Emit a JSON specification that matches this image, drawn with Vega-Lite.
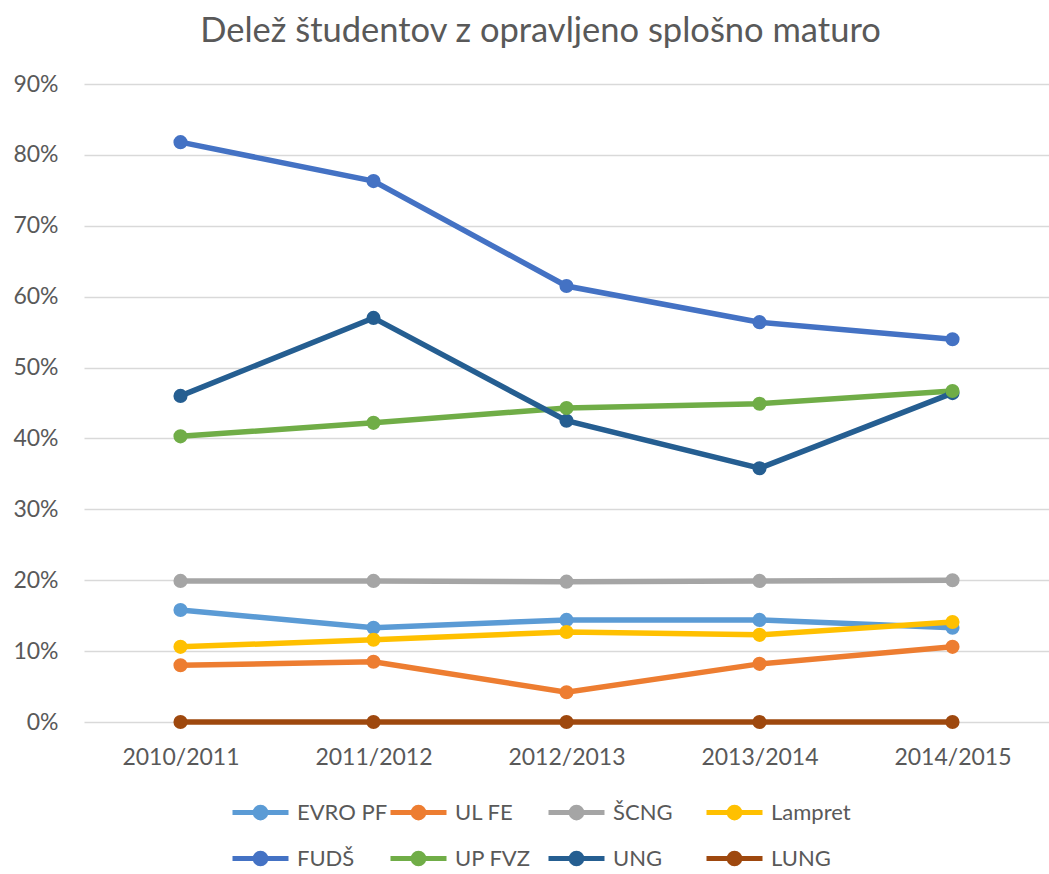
{
  "$schema": "https://vega.github.io/schema/vega-lite/v6.json",
  "width": 965,
  "height": 638,
  "autosize": {"type": "none"},
  "padding": {"left": 84, "top": 84, "right": 0, "bottom": 152},
  "background": "white",
  "title": {
    "text": "Delež študentov z opravljeno splošno maturo",
    "font": "Lato",
    "fontSize": 34.5,
    "fontWeight": "normal",
    "color": "#595959",
    "anchor": "middle",
    "dx": -26,
    "offset": 24
  },
  "config": {
    "view": {"stroke": null},
    "font": "Lato"
  },
  "data": {
    "values": [
      {"year": "2010/2011", "school": "EVRO PF", "value": 0.158},
      {"year": "2011/2012", "school": "EVRO PF", "value": 0.133},
      {"year": "2012/2013", "school": "EVRO PF", "value": 0.144},
      {"year": "2013/2014", "school": "EVRO PF", "value": 0.144},
      {"year": "2014/2015", "school": "EVRO PF", "value": 0.133},
      {"year": "2010/2011", "school": "UL FE", "value": 0.080},
      {"year": "2011/2012", "school": "UL FE", "value": 0.085},
      {"year": "2012/2013", "school": "UL FE", "value": 0.042},
      {"year": "2013/2014", "school": "UL FE", "value": 0.082},
      {"year": "2014/2015", "school": "UL FE", "value": 0.106},
      {"year": "2010/2011", "school": "ŠCNG", "value": 0.199},
      {"year": "2011/2012", "school": "ŠCNG", "value": 0.199},
      {"year": "2012/2013", "school": "ŠCNG", "value": 0.198},
      {"year": "2013/2014", "school": "ŠCNG", "value": 0.199},
      {"year": "2014/2015", "school": "ŠCNG", "value": 0.200},
      {"year": "2010/2011", "school": "Lampret", "value": 0.106},
      {"year": "2011/2012", "school": "Lampret", "value": 0.116},
      {"year": "2012/2013", "school": "Lampret", "value": 0.127},
      {"year": "2013/2014", "school": "Lampret", "value": 0.123},
      {"year": "2014/2015", "school": "Lampret", "value": 0.141},
      {"year": "2010/2011", "school": "FUDŠ", "value": 0.818},
      {"year": "2011/2012", "school": "FUDŠ", "value": 0.763},
      {"year": "2012/2013", "school": "FUDŠ", "value": 0.615},
      {"year": "2013/2014", "school": "FUDŠ", "value": 0.564},
      {"year": "2014/2015", "school": "FUDŠ", "value": 0.540},
      {"year": "2010/2011", "school": "UP FVZ", "value": 0.403},
      {"year": "2011/2012", "school": "UP FVZ", "value": 0.422},
      {"year": "2012/2013", "school": "UP FVZ", "value": 0.443},
      {"year": "2013/2014", "school": "UP FVZ", "value": 0.449},
      {"year": "2014/2015", "school": "UP FVZ", "value": 0.467},
      {"year": "2010/2011", "school": "UNG", "value": 0.460},
      {"year": "2011/2012", "school": "UNG", "value": 0.570},
      {"year": "2012/2013", "school": "UNG", "value": 0.425},
      {"year": "2013/2014", "school": "UNG", "value": 0.358},
      {"year": "2014/2015", "school": "UNG", "value": 0.464},
      {"year": "2010/2011", "school": "LUNG", "value": 0.0},
      {"year": "2011/2012", "school": "LUNG", "value": 0.0},
      {"year": "2012/2013", "school": "LUNG", "value": 0.0},
      {"year": "2013/2014", "school": "LUNG", "value": 0.0},
      {"year": "2014/2015", "school": "LUNG", "value": 0.0}
    ]
  },
  "mark": {
    "type": "line",
    "strokeWidth": 5.5,
    "point": {"filled": true, "size": 200}
  },
  "encoding": {
    "x": {
      "field": "year",
      "type": "ordinal",
      "scale": {"type": "point", "padding": 0.5},
      "axis": {
        "title": null,
        "domain": false,
        "ticks": false,
        "labelAngle": 0,
        "labelFont": "Lato",
        "labelFontSize": 23,
        "labelColor": "#595959",
        "labelPadding": 24
      }
    },
    "y": {
      "field": "value",
      "type": "quantitative",
      "scale": {"domain": [0, 0.9], "nice": false},
      "axis": {
        "title": null,
        "values": [0, 0.1, 0.2, 0.3, 0.4, 0.5, 0.6, 0.7, 0.8, 0.9],
        "format": ".0%",
        "domain": false,
        "ticks": false,
        "labelFont": "Lato",
        "labelFontSize": 23,
        "labelColor": "#595959",
        "labelPadding": 26,
        "gridColor": "#D9D9D9",
        "gridWidth": 1.5
      }
    },
    "color": {
      "field": "school",
      "type": "nominal",
      "sort": ["EVRO PF", "UL FE", "ŠCNG", "Lampret", "FUDŠ", "UP FVZ", "UNG", "LUNG"],
      "scale": {
        "domain": ["EVRO PF", "UL FE", "ŠCNG", "Lampret", "FUDŠ", "UP FVZ", "UNG", "LUNG"],
        "range": ["#5B9BD5", "#ED7D31", "#A5A5A5", "#FFC000", "#4472C4", "#70AD47", "#255E91", "#9E480E"]
      },
      "legend": {
        "title": null,
        "orient": "none",
        "legendX": 146,
        "legendY": 698,
        "direction": "horizontal",
        "columns": 4,
        "gridAlign": "all",
        "columnPadding": -15,
        "rowPadding": -2,
        "labelFont": "Lato",
        "labelFontSize": 22,
        "labelColor": "#595959",
        "labelOffset": 6,
        "symbolSize": 3136,
        "symbolStrokeWidth": 5,
        "symbolType": "M-1,0H1M-0.19,0A0.19,0.19,0,1,0,0.19,0A0.19,0.19,0,1,0,-0.19,0Z",
        "encode": {
          "symbols": {
            "update": {
              "fill": {"scale": "color", "field": "value"},
              "stroke": {"scale": "color", "field": "value"},
              "strokeWidth": {"value": 5},
              "shape": {"value": "M-1,0H1M-0.19,0A0.19,0.19,0,1,0,0.19,0A0.19,0.19,0,1,0,-0.19,0Z"},
              "size": {"value": 3136},
              "opacity": {"value": 1}
            }
          }
        }
      }
    },
    "order": {"field": "school"}
  }
}
